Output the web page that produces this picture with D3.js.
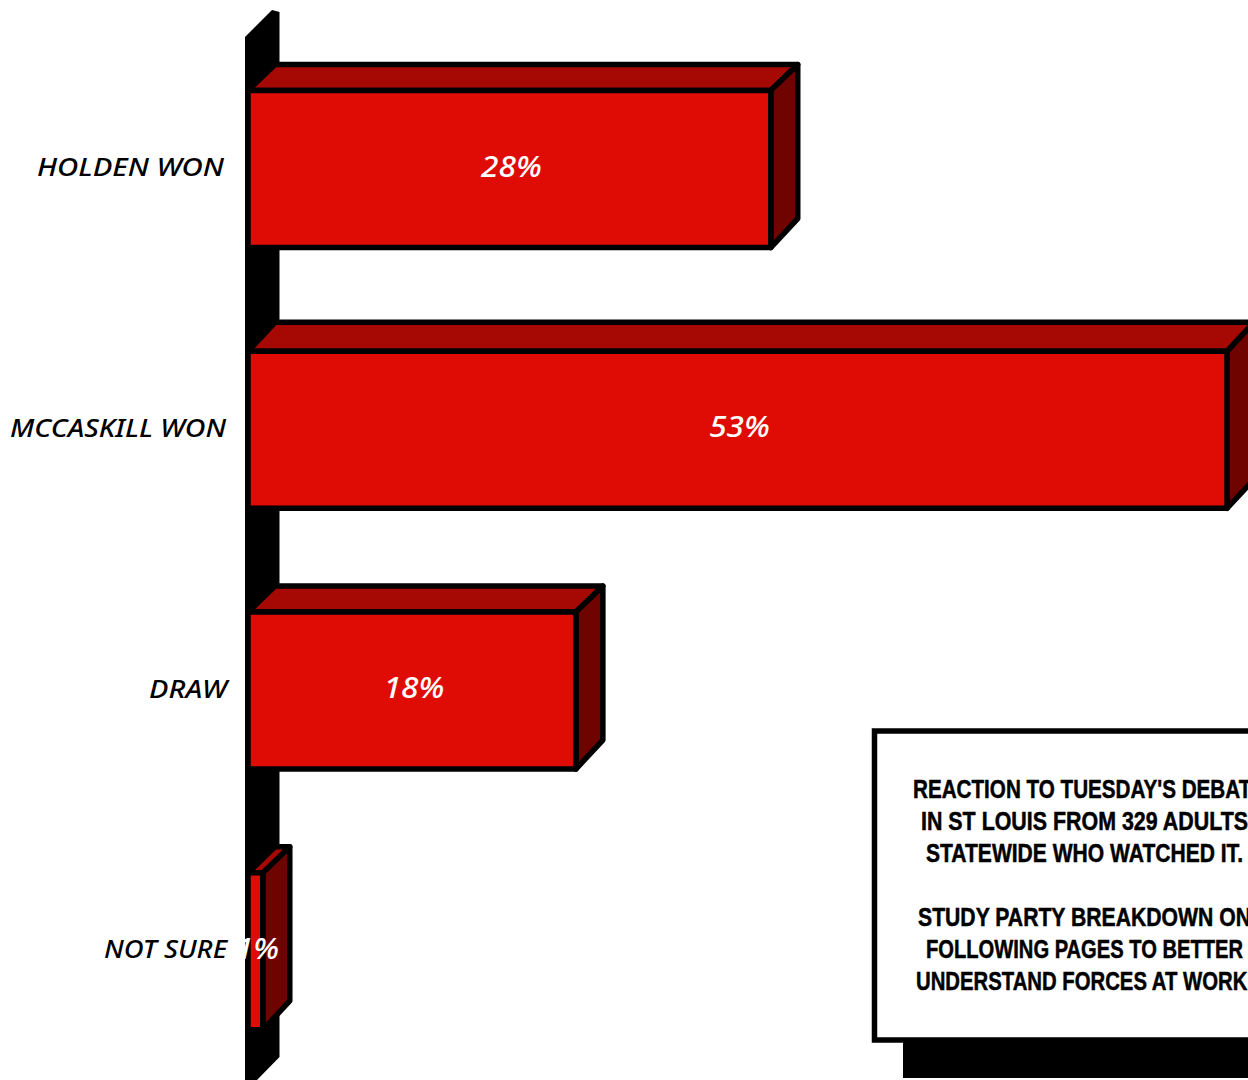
<!DOCTYPE html>
<html>
<head>
<meta charset="utf-8">
<script src="https://cdn.jsdelivr.net/npm/d3@7"></script>
<style>
  body { margin: 0; background: #fff; overflow: hidden; }
  svg { display: block; }
  .cat { font: italic 500 26px "Noto Sans", sans-serif; text-anchor: end; }
  .val { font: italic 500 29px "Noto Sans", sans-serif; fill: #fff; text-anchor: middle; }
  .note { font: bold 26px "Liberation Sans", sans-serif; text-anchor: middle; stroke: #000; stroke-width: 0.5px; }
</style>
</head>
<body>
<svg id="chart" width="1248" height="1080"></svg>
<script>
const categories = ['HOLDEN WON', 'MCCASKILL WON', 'DRAW', 'NOT SURE'];
const values = [28.3, 53, 17.75, 0.8];
const valueLabels = ['28%', '53%', '18%', '1%'];
const noteLines = [
  "REACTION TO TUESDAY'S DEBATE",
  'IN ST LOUIS FROM 329 ADULTS',
  'STATEWIDE WHO WATCHED IT.',
  '',
  'STUDY PARTY BREAKDOWN ON',
  'FOLLOWING PAGES TO BETTER',
  'UNDERSTAND FORCES AT WORK.'
];

const svg = d3.select('#chart');

const x = d3.scaleLinear().domain([0, 53]).range([248, 1227]);
const y = d3.scaleBand().domain(categories).range([38.4, 1082]).paddingInner(0.398).paddingOuter(0.2);

const dx = 27, dyBottom = 29; // 3d depth of the bars
const dyTop = [26, 29, 26, 26]; // the top faces are not all the same depth

// black wall behind the bars
svg.append('polygon')
  .attr('points', [[245, 37], [272, 10], [279.5, 12], [279.5, 1057], [257, 1080], [245, 1080]].join(' '))
  .attr('fill', '#000');

const bars = svg.selectAll('g.bar')
  .data(categories)
  .join('g')
  .attr('class', 'bar')
  .attr('stroke', '#000')
  .attr('stroke-width', 5.5)
  .attr('stroke-linejoin', 'round');

// top face
bars.append('polygon')
  .attr('fill', '#a60803')
  .attr('points', (d, i) => {
    const x0 = x(0), x1 = x(values[i]), t = y(d);
    return [[x0, t], [x0 + dx, t - dyTop[i]], [x1 + dx, t - dyTop[i]], [x1, t]].join(' ');
  });

// side face
bars.append('polygon')
  .attr('fill', '#6e0300')
  .attr('points', (d, i) => {
    const x1 = x(values[i]), t = y(d), b = t + y.bandwidth();
    return [[x1, t], [x1 + dx, t - dyTop[i]], [x1 + dx, b - dyBottom], [x1, b]].join(' ');
  });

// front face
bars.append('rect')
  .attr('fill', '#df0b05')
  .attr('x', x(0))
  .attr('y', d => y(d))
  .attr('width', (d, i) => x(values[i]) - x(0))
  .attr('height', y.bandwidth());

svg.selectAll('text.val')
  .data(categories)
  .join('text')
  .attr('class', 'val')
  .attr('transform', (d, i) => `translate(${(x(0) + x(values[i])) / 2 + 2},${y(d) + y.bandwidth() / 2 + 7.5}) scale(1.09,1)`)
  .text((d, i) => valueLabels[i]);

// label fonts differ from the original, so fit each one to its measured width
const catRight = [224, 226, 227, 227];
const catWidths = [187, 216, 78, 123];
svg.selectAll('text.cat')
  .data(categories)
  .join('text')
  .attr('class', 'cat')
  .attr('x', (d, i) => catRight[i])
  .attr('y', d => y(d) + y.bandwidth() / 2 + 7)
  .attr('textLength', (d, i) => catWidths[i])
  .attr('lengthAdjust', 'spacingAndGlyphs')
  .text(d => d);

// note box, runs off the right of the page
svg.append('rect').attr('x', 903).attr('y', 1040).attr('width', 400).attr('height', 38).attr('fill', '#000');
svg.append('rect')
  .attr('x', 874.5).attr('y', 731)
  .attr('width', 450).attr('height', 309)
  .attr('fill', '#fff').attr('stroke', '#000').attr('stroke-width', 5.5);

// no narrow bold font here, so squeeze the bold one line by line
const noteWidths = [352, 327, 317, 0, 333, 317, 337];
svg.selectAll('text.note')
  .data(noteLines)
  .join('text')
  .attr('class', 'note')
  .attr('x', (d, i) => i === 0 ? 1089 : 1084.5) // first line is wider, its end is off the page
  .attr('y', (d, i) => 798 + i * 32)
  .attr('textLength', (d, i) => noteWidths[i] || null)
  .attr('lengthAdjust', 'spacingAndGlyphs')
  .text(d => d);
</script>
</body>
</html>
